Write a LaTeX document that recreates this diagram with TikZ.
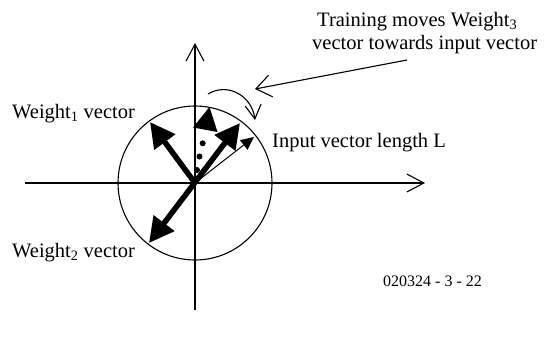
\documentclass[tikz,border=0pt]{standalone}
\usepackage{fontspec}
\setmainfont{Liberation Serif}
\usetikzlibrary{arrows.meta}
\tikzset{
  bigtip/.tip={Triangle[length=25pt,width=25pt]},
  axisline/.style={line width=1.1pt,-{Straight Barb[length=17pt,width=18pt,line width=1.1pt]}},
  weightvec/.style={line width=5.5pt},
  thinvec/.style={line width=1pt,-{Triangle[length=13pt,width=12pt]}},
  pointer/.style={line width=1.1pt,-{Straight Barb[length=15pt,width=22pt,line width=1.1pt]}},
  lbl/.style={font=\fontsize{20.5}{24}\selectfont, inner sep=0pt},
  small/.style={font=\fontsize{16}{18}\selectfont, inner sep=0pt}
}
\begin{document}
\begin{tikzpicture}[x=1pt,y=-1pt]
\useasboundingbox (0,0) rectangle (555,338);
\coordinate (O) at (195,183);
\coordinate (xl) at (25,183);
\coordinate (xr) at (425,183);
\coordinate (yb) at (195,310);
\coordinate (yt) at (195,43);
\coordinate (w1) at (150,122);
\coordinate (w2) at (149,243);
\coordinate (w3) at (240,123);
\coordinate (in) at (254,137);
% axes and circle
\draw[axisline] (xl) -- (xr);
\draw[axisline] (yb) -- (yt);
\draw[line width=1.1pt] (O) circle[radius=77];
% weight vectors
\draw[weightvec,-bigtip] (O) -- (w1);
\draw[weightvec,bigtip-bigtip] (w2) -- (w3);
% old weight3 head with dotted shaft
\fill (209.5,107) -- (217.5,132) -- (193,127.5) -- cycle;
\fill (202.7,143.3) circle[radius=3];
\fill (199.5,156.5) circle[radius=3];
\fill (197,170) circle[radius=3];
% input vector
\draw[thinvec] (O) -- (in);
% curved training arrow
\coordinate (cs) at (208,94);
\coordinate (ce) at (255,120);
\draw[line width=1.1pt,-{Straight Barb[length=14pt,width=16pt,line width=1.1pt]}] (cs) .. controls (228,82) and (252,96) .. (ce);
% texts
\node[lbl,anchor=base west] (t1) at (317,26) {Training moves Weight\textsubscript{3}};
\node[lbl,anchor=base west] (t2) at (312,49) {vector towards input vector};
\node[lbl,anchor=base west] (tin) at (272,147) {Input vector length L};
\node[lbl,anchor=base west] (tw1) at (12,118.5) {Weight\textsubscript{1} vector};
\node[lbl,anchor=base west] (tw2) at (12,257) {Weight\textsubscript{2} vector};
\node[small,anchor=base west] (code) at (383,286) {020324 - 3 - 22};
\coordinate (ps) at (407,60);
\coordinate (pe) at (255,89);
\draw[pointer] (ps) -- (pe);
\end{tikzpicture}
\end{document}
